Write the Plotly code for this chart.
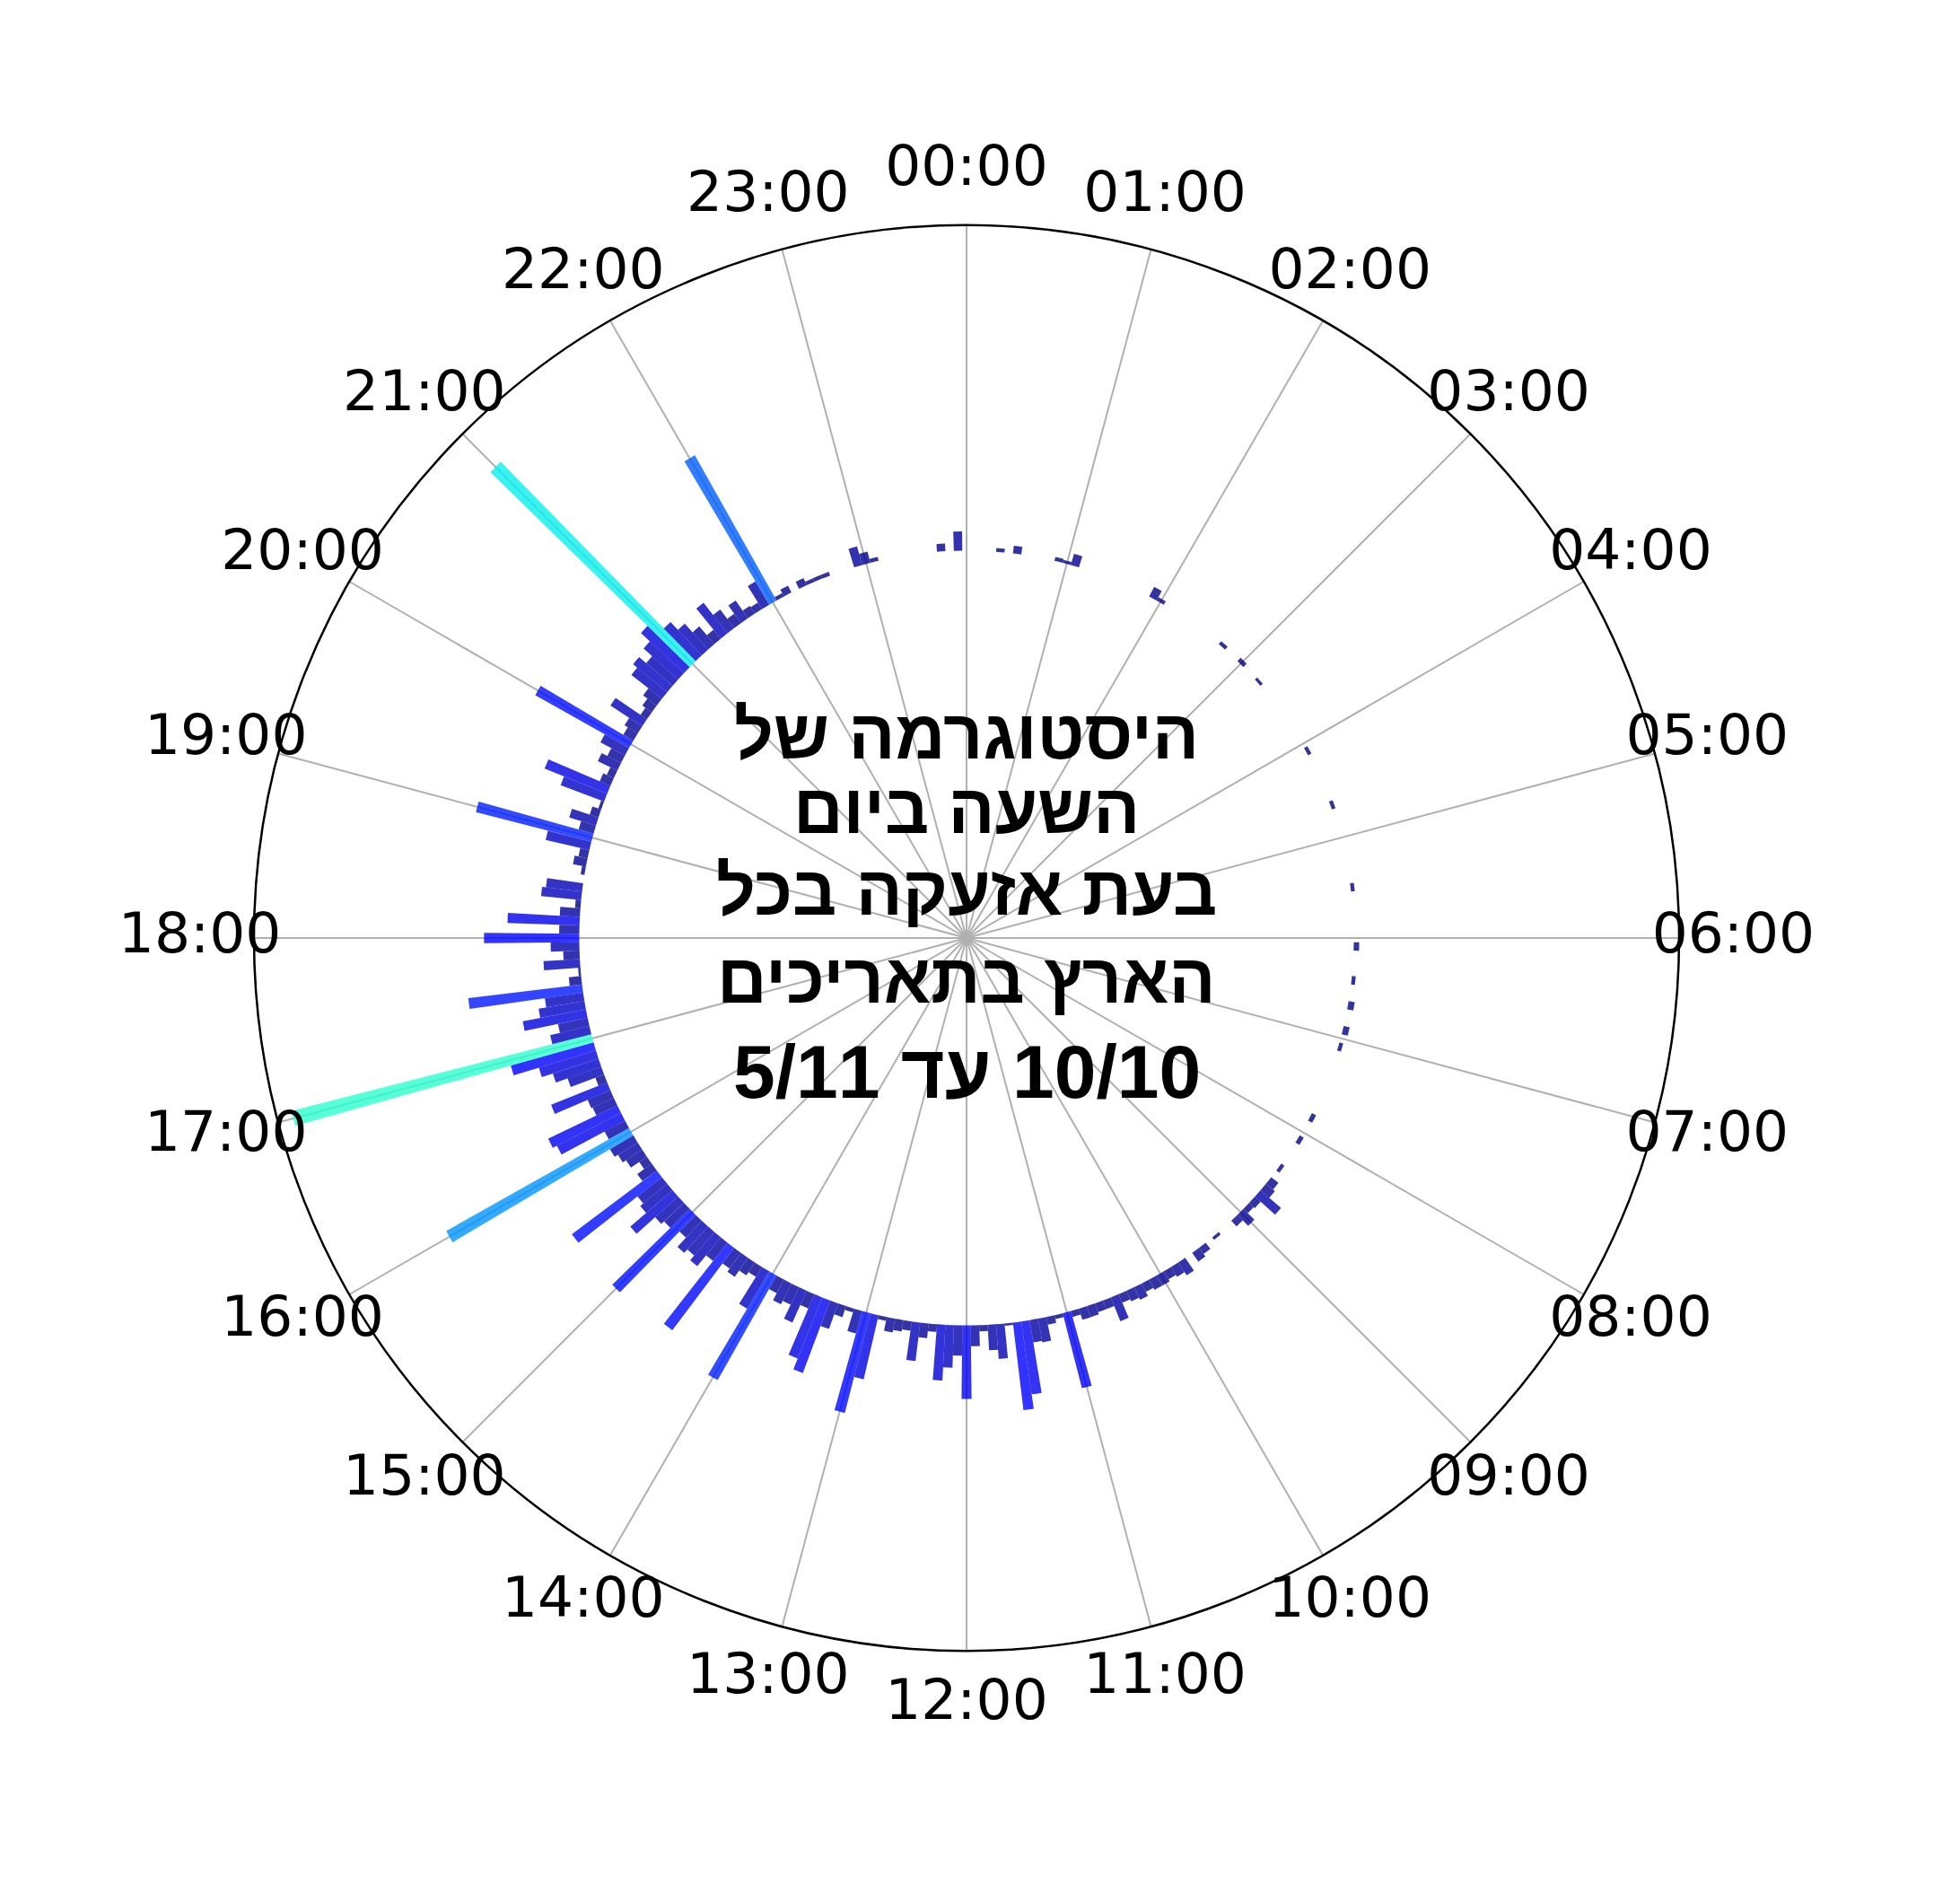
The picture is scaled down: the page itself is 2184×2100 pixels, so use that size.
import numpy as np
import plotly.graph_objects as go

# the page adds an 8px body margin, so the figure is 16px smaller than the window
W, H = 2168, 2084

# tick labels, one per hour
HOUR_LABELS = [f"{h:02d}:00" for h in range(24)]
HOUR_ANGLES = [h * 15 for h in range(24)]

# bar heights per 5-minute bin (radial units, bars sit on a base of 5)
h00_06 = [
    0, 0, 0, 0, 0.05, 0, 0.1, 0, 0, 0, 0, 0.05,
    0.04, 0.15, 0, 0, 0, 0, 0, 0, 0, 0, 0, 0.14,
    0.05, 0, 0, 0, 0, 0, 0, 0, 0, 0.05, 0, 0,
    0.06, 0, 0, 0.04, 0, 0, 0, 0, 0, 0, 0, 0,
    0, 0.05, 0, 0, 0, 0, 0, 0, 0.05, 0, 0, 0,
    0, 0, 0, 0, 0, 0, 0.05, 0, 0, 0, 0, 0,
]
h06_12 = [
    0, 0.07, 0, 0, 0, 0.05, 0, 0, 0.08, 0, 0, 0.08,
    0, 0.05, 0, 0, 0, 0, 0, 0, 0, 0, 0.06, 0,
    0, 0.06, 0, 0, 0, 0.05, 0, 0.12, 0.15, 0.35, 0.1, 0.08,
    0.2, 0.1, 0, 0, 0.04, 0, 0.1, 0.14, 0, 0.2, 0.15, 0.12,
    0.15, 0.15, 0.12, 0.18, 0.15, 0.12, 0.33, 0.12, 0.12, 0.15, 0.15, 0.08,
    1.0, 0.05, 0.1, 0.31, 0.29, 0.95, 1.14, 0.03, 0.45, 0.33, 0.08, 0.27,
]
h12_18 = [
    0.95, 0.39, 0.55, 0.72, 0.1, 0.19, 0.5, 0.12, 0.15, 0.18, 0.05, 0.85,
    1.33, 0.3, 0.05, 0.15, 0.35, 1.0, 0.85, 0.2, 0.45, 0.25, 0.3, 0.2,
    1.55, 0.56, 0.15, 0.2, 0.3, 0.25, 1.33, 0.3, 0.48, 0.4, 0.46, 0.3,
    1.4, 0.35, 0.4, 0.72, 0.45, 0.4, 1.37, 0.23, 0.12, 0.25, 0.3, 0.35,
    2.71, 0.3, 0.93, 0.99, 0.3, 0.32, 0.78, 0.12, 0.46, 0.62, 0.77, 1.11,
    4.0, 0.52, 0.39, 0.83, 0.6, 0.5, 1.48, 0.16, 0.03, 0.47, 0.21, 0.37,
]
h18_24 = [
    1.23, 0.26, 0.93, 0.26, 0.07, 0.52, 0.47, 0, 0.05, 0.17, 0.12, 0.58,
    1.54, 0.2, 0.36, 0.12, 0.04, 0.6, 0.87, 0.15, 0.1, 0.28, 0.2, 0.36,
    1.39, 0.15, 0.2, 0.49, 0.1, 0.15, 0.22, 0.5, 0.57, 0.45, 0.6, 0.76,
    3.6, 0.59, 0.45, 0.3, 0.15, 0.5, 0.3, 0.15, 0.28, 0.12, 0.1, 0.35,
    2.15, 0.05, 0.1, 0, 0.1, 0.05, 0.05, 0.05, 0, 0, 0, 0.25,
    0.15, 0.05, 0, 0, 0, 0, 0, 0, 0, 0.1, 0, 0.25,
]

# centre title (Hebrew, read right to left)
TITLE_LINES = [
    "היסטוגרמה של",
    "השעה ביום",
    "בעת אזעקה בכל",
    "הארץ בתאריכים",
]
# last line, pieces in visual left-to-right order: "10/10 עד 5/11"
DATE_LINE = ["5/11", "עד", "10/10"]
TITLE_Y = [810, 893, 984, 1082, 1186]  # px from top

BASE = 5
RMAX = 9.2
LABEL_R = 9.9

# matplotlib "jet" segments
JET = {
    "red": [(0, 0), (0.35, 0), (0.66, 1), (0.89, 1), (1, 0.5)],
    "green": [(0, 0), (0.125, 0), (0.375, 1), (0.64, 1), (0.91, 0), (1, 0)],
    "blue": [(0, 0.5), (0.11, 1), (0.34, 1), (0.65, 0), (1, 0)],
}


def jet_scale():
    stops = sorted({p for seg in JET.values() for p, _ in seg})
    out = []
    for p in stops:
        rgb = []
        for ch in ("red", "green", "blue"):
            xs, ys = zip(*JET[ch])
            rgb.append(int(round(255 * np.interp(p, xs, ys))))
        out.append([p, "rgb(%d,%d,%d)" % tuple(rgb)])
    return out


def main():
    heights = h00_06 + h06_12 + h12_18 + h18_24
    theta = [i * 360 / len(heights) for i in range(len(heights))]

    cx, cy, rad = 1069, 1037, 794
    lab_rad = rad * 10 / RMAX

    fig = go.Figure()
    fig.add_trace(go.Barpolar(
        r=heights, theta=theta, base=BASE, width=360 / len(heights),
        marker=dict(color=heights, colorscale=jet_scale(), cmin=0, cmax=10,
                    opacity=0.8, line=dict(width=0)),
        subplot="polar",
    ))
    fig.add_trace(go.Scatterpolar(
        r=[LABEL_R] * len(HOUR_ANGLES), theta=HOUR_ANGLES, text=HOUR_LABELS,
        mode="text", textposition="middle center", cliponaxis=False,
        textfont=dict(family="DejaVu Sans", size=63, color="black"),
        subplot="polar2",
    ))

    angular = dict(direction="clockwise", rotation=90,
                   tickvals=HOUR_ANGLES, showticklabels=False, ticks="")
    fig.update_layout(
        width=W, height=H,
        margin=dict(l=0, r=0, t=0, b=0),
        paper_bgcolor="white",
        showlegend=False,
        polar=dict(
            domain=dict(x=[(cx - rad) / W, (cx + rad) / W],
                        y=[1 - (cy + rad) / H, 1 - (cy - rad) / H]),
            bgcolor="white",
            radialaxis=dict(range=[0, RMAX], visible=False),
            angularaxis=dict(**angular, showgrid=True, gridcolor="#b0b0b0",
                             gridwidth=2.2, showline=True, linecolor="black",
                             linewidth=2.5, layer="above traces"),
        ),
        polar2=dict(
            domain=dict(x=[(cx - lab_rad) / W, (cx + lab_rad) / W],
                        y=[1 - (cy + lab_rad) / H, 1 - (cy - lab_rad) / H]),
            bgcolor="rgba(0,0,0,0)",
            radialaxis=dict(range=[0, 10], visible=False),
            angularaxis=dict(**angular, showgrid=False, showline=False),
        ),
    )

    texts = list(TITLE_LINES)
    sizes = [77] * len(texts)
    # left-to-right marks keep the dates and the word in their visual places
    texts.append("\u200e \u200e".join(DATE_LINE))
    sizes.append(84)

    for text, y, size in zip(texts, TITLE_Y, sizes):
        fig.add_annotation(
            text=text, x=cx / W, y=1 - y / H,
            xref="paper", yref="paper", xanchor="center", yanchor="middle",
            showarrow=False,
            font=dict(family="Liberation Sans", size=size, color="black", weight="bold"),
        )

    fig.write_html("out.html")


if __name__ == "__main__":
    main()
